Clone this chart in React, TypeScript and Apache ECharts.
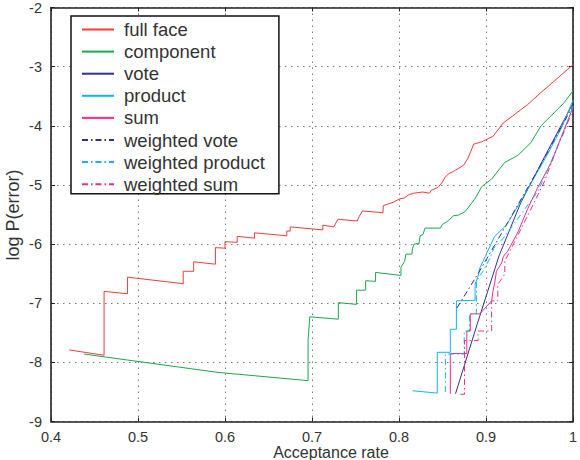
import React, { useEffect, useRef } from "react";
import * as echarts from "echarts";

const xTicks = [0.4, 0.5, 0.6, 0.7, 0.8, 0.9, 1];
const yTicks = [-9, -8, -7, -6, -5, -4, -3, -2];

const seriesNames = [
  "full face",
  "component",
  "vote",
  "product",
  "sum",
  "weighted vote",
  "weighted product",
  "weighted sum",
];

const fullFace = [
  [0.421, -7.79], [0.461, -7.88], [0.461, -6.8], [0.488, -6.84], [0.488, -6.56],
  [0.552, -6.67], [0.552, -6.46], [0.564, -6.46], [0.564, -6.3], [0.589, -6.34],
  [0.589, -6.06], [0.6, -6.07], [0.6, -5.96], [0.614, -5.97], [0.614, -5.87],
  [0.634, -5.9], [0.634, -5.81], [0.671, -5.86], [0.671, -5.78], [0.675, -5.78],
  [0.675, -5.71], [0.7125, -5.76], [0.7125, -5.68], [0.725, -5.71], [0.728, -5.63],
  [0.73, -5.58], [0.752, -5.61], [0.754, -5.54], [0.758, -5.44], [0.7815, -5.47],
  [0.782, -5.35], [0.794, -5.29], [0.8, -5.24], [0.806, -5.22], [0.812, -5.16],
  [0.817, -5.14], [0.827, -5.12], [0.835, -5.14], [0.837, -5.09], [0.845, -5.04],
  [0.85, -4.95], [0.853, -4.87], [0.857, -4.81], [0.863, -4.77], [0.865, -4.75],
  [0.874, -4.67], [0.879, -4.56], [0.886, -4.31], [0.895, -4.27], [0.908, -4.18],
  [0.92, -3.95], [0.931, -3.83], [0.948, -3.64], [0.963, -3.44], [0.978, -3.25],
  [0.9935, -3.05], [1.0, -2.97],
];

const component = [
  [0.438, -7.86], [0.592, -8.17], [0.689, -8.3], [0.6955, -8.31], [0.6955, -7.63],
  [0.6974, -7.23], [0.7303, -7.27], [0.7303, -6.99], [0.7511, -7.02], [0.7511, -6.78],
  [0.7617, -6.78], [0.7617, -6.62], [0.7731, -6.63], [0.7731, -6.48], [0.8023, -6.53],
  [0.8023, -6.39], [0.8065, -6.29], [0.808, -6.17], [0.8148, -6.17], [0.8156, -6.07],
  [0.8174, -6.0], [0.8231, -5.99], [0.8242, -5.86], [0.8276, -5.84], [0.8299, -5.73],
  [0.8477, -5.73], [0.8497, -5.67], [0.8553, -5.62], [0.8628, -5.52], [0.8685, -5.51],
  [0.8761, -5.45], [0.8875, -5.23], [0.8951, -5.03], [0.9065, -4.9], [0.9216, -4.62],
  [0.9367, -4.5], [0.9519, -4.28], [0.9633, -4.0], [0.9784, -3.78], [0.9898, -3.61],
  [1.0, -3.41],
];

const vote = [
  [0.865, -8.53], [0.89, -7.35], [0.915, -6.2], [0.94, -5.3], [0.97, -4.45], [1.0, -3.62],
];

const product = [
  [0.8156, -8.48], [0.844, -8.52], [0.844, -7.83], [0.859, -7.83], [0.859, -7.44],
  [0.866, -7.44], [0.866, -6.96], [0.8875, -6.95], [0.8875, -6.68], [0.891, -6.54],
  [0.893, -6.4], [0.897, -6.28], [0.901, -6.15], [0.9045, -6.04], [0.908, -5.93],
  [0.91, -5.87], [0.9235, -5.68], [0.9406, -5.26], [0.9557, -4.87], [0.9708, -4.48],
  [0.986, -4.06], [1.0, -3.57],
];

const sum = [
  [0.859, -8.53], [0.859, -7.85], [0.878, -7.85], [0.878, -7.47], [0.882, -7.47],
  [0.882, -7.18], [0.893, -7.18], [0.901, -7.05], [0.9065, -6.96], [0.908, -6.8],
  [0.91, -6.66], [0.912, -6.46], [0.918, -6.32], [0.92, -6.21], [0.925, -6.12],
  [0.937, -5.79], [0.948, -5.4], [0.959, -5.06], [0.975, -4.62], [0.99, -4.06],
  [1.0, -3.69],
];

const weightedVote = [
  [0.8667, -7.08], [0.8913, -6.49], [0.9178, -5.82], [0.9614, -4.7], [1.0, -3.66],
];

const weightedProduct = [
  [0.8534, -8.5], [0.8534, -7.86], [0.875, -7.86], [0.875, -7.47], [0.881, -7.47],
  [0.881, -7.18], [0.889, -7.18], [0.889, -6.62], [0.897, -6.45], [0.9045, -6.24],
  [0.909, -6.07], [0.92, -5.9], [0.935, -5.6], [0.96, -5.1], [0.975, -4.6],
  [0.99, -4.1], [1.0, -3.66],
];

const weightedSum = [
  [0.8705, -8.54], [0.8753, -8.54], [0.8753, -7.63], [0.8909, -7.63], [0.8909, -7.47],
  [0.9065, -7.47], [0.9065, -6.96], [0.9136, -6.96], [0.9136, -6.68], [0.9216, -6.51],
  [0.9216, -6.29], [0.933, -5.96], [0.9503, -5.45], [0.967, -4.95], [0.984, -4.28],
  [1.0, -3.74],
];

const seriesData = [fullFace, component, vote, product, sum, weightedVote, weightedProduct, weightedSum];
const seriesColors = ["#f03c3c", "#18a850", "#303090", "#12b4ee", "#f02c8c", "#303090", "#12b4ee", "#f02c8c"];
const dashDot = [6, 3, 1.5, 3];

const FONT = "'Liberation Sans', Arial, sans-serif";
const AXIS_COLOR = "#222";

function buildOption() {
  const grid = { left: 51, right: 1, top: 4, bottom: 38.5, containLabel: false };
  const gridLine = { show: true, lineStyle: { type: [1.5, 4.5], color: "#777", width: 1 } };
  const axisLine = { show: true, onZero: false, lineStyle: { color: AXIS_COLOR, width: 1.6 } };
  const tick = { show: true, inside: true, length: 4, lineStyle: { color: AXIS_COLOR, width: 1 } };
  const label = { fontFamily: FONT, fontSize: 14.5, color: "#333" };

  const xBase = { type: "value", min: xTicks[0], max: xTicks[xTicks.length - 1], interval: 0.1 };
  const yBase = { type: "value", min: yTicks[0], max: yTicks[yTicks.length - 1], interval: 1 };

  return {
    animation: false,
    backgroundColor: "#fff",
    grid,
    xAxis: [
      {
        ...xBase,
        position: "bottom",
        axisLine,
        axisTick: tick,
        axisLabel: { ...label, margin: 8, formatter: (v: number) => String(parseFloat(v.toFixed(2))) },
        splitLine: gridLine,
      },
      {
        ...xBase,
        position: "top",
        axisLine,
        axisTick: tick,
        axisLabel: { show: false },
        splitLine: { show: false },
      },
    ],
    yAxis: [
      {
        ...yBase,
        position: "left",
        axisLine,
        axisTick: tick,
        axisLabel: { ...label, margin: 9 },
        splitLine: gridLine,
      },
      {
        ...yBase,
        position: "right",
        axisLine,
        axisTick: tick,
        axisLabel: { show: false },
        splitLine: { show: false },
      },
    ],
    legend: {
      orient: "vertical",
      left: 71,
      top: 16,
      padding: [4, 14, 0, 10],
      itemWidth: 32,
      itemHeight: 14,
      itemGap: 3.1,
      backgroundColor: "#fff",
      borderColor: "#111",
      borderWidth: 1.5,
      borderRadius: 0,
      itemStyle: { color: "rgba(0,0,0,0)", borderColor: "rgba(0,0,0,0)", borderWidth: 0 },
      textStyle: { fontFamily: FONT, fontSize: 18.5, color: "#333", padding: [0, 0, 0, 5] },
      data: seriesNames,
    },
    graphic: [
      {
        type: "text",
        x: 331,
        y: 452,
        style: { text: "Acceptance rate", font: `16px ${FONT}`, fill: "#333", textAlign: "center", textVerticalAlign: "middle" },
      },
      {
        type: "text",
        x: 13,
        y: 215,
        rotation: Math.PI / 2,
        style: { text: "log P(error)", font: `18px ${FONT}`, fill: "#333", textAlign: "center", textVerticalAlign: "middle" },
      },
    ],
    series: seriesNames.map((name, i) => ({
      name,
      type: "line",
      xAxisIndex: 0,
      yAxisIndex: 0,
      data: seriesData[i],
      symbol: "none",
      showSymbol: false,
      clip: true,
      lineStyle: { color: seriesColors[i], width: 1, type: i >= 5 ? dashDot : "solid" },
      itemStyle: { color: seriesColors[i] },
      emphasis: { disabled: true },
    })),
  };
}

export default function App() {
  const ref = useRef<HTMLDivElement>(null);
  useEffect(() => {
    if (!ref.current) return;
    const chart = echarts.init(ref.current, null, { renderer: "svg" });
    chart.setOption(buildOption() as any);
    return () => chart.dispose();
  }, []);
  return (
    <div
      ref={ref}
      style={{ position: "fixed", left: 0, top: 0, width: 580, height: 460, background: "#fff" }}
    />
  );
}
